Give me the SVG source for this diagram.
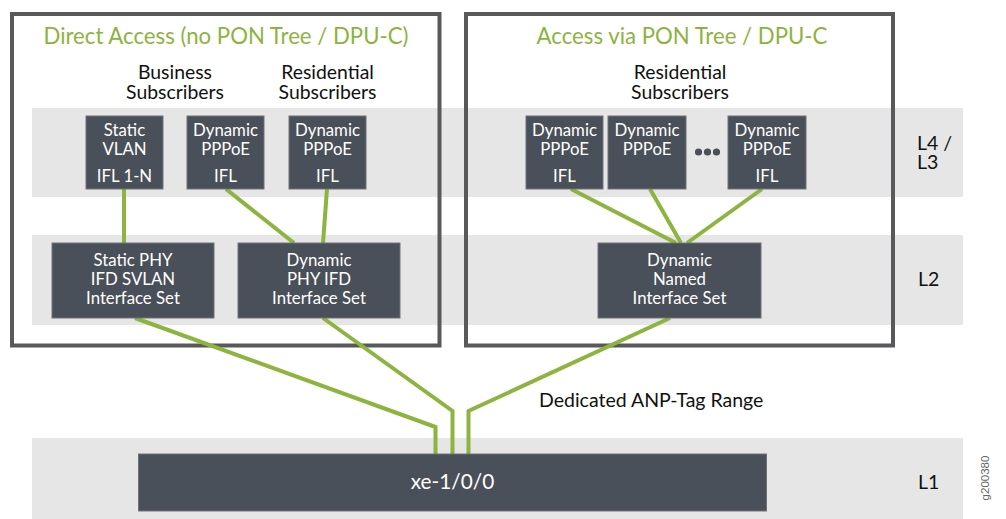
<svg xmlns="http://www.w3.org/2000/svg" width="1006" height="519" viewBox="0 0 1006 519">
  <style>
    .band { fill: #e6e6e6; }
    .frame { fill: none; stroke: #58595b; stroke-width: 4; }
    .node { fill: #4a5059; stroke: #6e737a; stroke-width: 1; }
    .nt { font-family: Lato, "Open Sans", sans-serif; font-size: 16.8px; fill: #ffffff; text-anchor: middle; }
    .nt.port { font-size: 20.8px; }
    .title { font-family: Lato, "Open Sans", sans-serif; font-size: 22.2px; fill: #8db33f; text-anchor: middle; }
    .lbl { font-family: Lato, "Open Sans", sans-serif; font-size: 19.4px; fill: #111111; text-anchor: middle; }
    .layer { font-family: Lato, "Open Sans", sans-serif; font-size: 19.5px; fill: #111111; }
    .link { fill: none; stroke: #8cb43e; stroke-width: 4; stroke-linejoin: miter; }
    .dot { fill: #4a5059; }
  </style>

  <!-- protocol layer bands -->
  <g id="bands">
    <rect class="band" x="32" y="108" width="931" height="89"/>
    <rect class="band" x="32" y="235" width="931" height="90"/>
    <rect class="band" x="32" y="438" width="931" height="81"/>
  </g>

  <!-- access domains -->
  <g id="domain-direct">
    <rect class="frame" x="12" y="14" width="427.5" height="331.5"/>
    <text class="title" x="226" y="43.5">Direct Access (no PON Tree / DPU-C)</text>
    <text class="lbl" x="175" y="78.5">Business</text>
    <text class="lbl" x="175" y="98.5">Subscribers</text>
    <text class="lbl" x="327.5" y="78.5">Residential</text>
    <text class="lbl" x="327.5" y="98.5">Subscribers</text>
  </g>
  <g id="domain-pon">
    <rect class="frame" x="466" y="14" width="427" height="331.5"/>
    <text class="title" x="682" y="43.5">Access via PON Tree / DPU-C</text>
    <text class="lbl" x="680" y="78.5">Residential</text>
    <text class="lbl" x="680" y="98.5">Subscribers</text>
  </g>

  <!-- layer labels -->
  <g id="layer-labels">
    <text class="layer" x="917" y="149.5">L4 /</text>
    <text class="layer" x="917" y="168.5">L3</text>
    <text class="layer" x="918" y="286">L2</text>
    <text class="layer" x="918" y="489">L1</text>
    <text x="539" y="407" class="layer">Dedicated ANP-Tag Range</text>
    <text transform="translate(989 478) rotate(-90)" text-anchor="middle" font-family="'Liberation Sans', Arial, sans-serif" font-size="11.5" fill="#666666">g200380</text>
  </g>

  <!-- connectors -->
  <g id="connectors">
    <path class="link" d="M124 189 V243"/>
    <path class="link" d="M226 189 L294 243"/>
    <path class="link" d="M327 189 L323 243"/>
    <path class="link" d="M571 189 L676 243"/>
    <path class="link" d="M650 189 L681 243"/>
    <path class="link" d="M762 189 L687 243"/>
    <path class="link" d="M135 318 L435.5 427 V455"/>
    <path class="link" d="M323 318 L452.5 411 V455"/>
    <path class="link" d="M670 318 L468.5 411 V455"/>
  </g>

  <!-- L4 / L3 nodes -->
  <g id="node-static-vlan">
    <rect class="node" x="86" y="116" width="77" height="73"/>
    <text class="nt" x="124.5" y="136">Static</text>
    <text class="nt" x="124.5" y="155">VLAN</text>
    <text class="nt" x="124.5" y="182">IFL 1-N</text>
  </g>
  <g id="node-pppoe-biz">
    <rect class="node" x="187" y="116" width="77" height="73"/>
    <text class="nt" x="225.5" y="136">Dynamic</text>
    <text class="nt" x="225.5" y="155">PPPoE</text>
    <text class="nt" x="225.5" y="182">IFL</text>
  </g>
  <g id="node-pppoe-res">
    <rect class="node" x="289" y="116" width="77" height="73"/>
    <text class="nt" x="327.5" y="136">Dynamic</text>
    <text class="nt" x="327.5" y="155">PPPoE</text>
    <text class="nt" x="327.5" y="182">IFL</text>
  </g>
  <g id="node-pppoe-pon-1">
    <rect class="node" x="526" y="116" width="77" height="73"/>
    <text class="nt" x="564.5" y="136">Dynamic</text>
    <text class="nt" x="564.5" y="155">PPPoE</text>
    <text class="nt" x="564.5" y="182">IFL</text>
  </g>
  <g id="node-pppoe-pon-2">
    <rect class="node" x="608" y="116" width="78" height="73"/>
    <text class="nt" x="647" y="136">Dynamic</text>
    <text class="nt" x="647" y="155">PPPoE</text>
  </g>
  <g id="ellipsis">
    <circle class="dot" cx="698.5" cy="152" r="3.6"/>
    <circle class="dot" cx="707.5" cy="152" r="3.6"/>
    <circle class="dot" cx="716.5" cy="152" r="3.6"/>
  </g>
  <g id="node-pppoe-pon-n">
    <rect class="node" x="728" y="116" width="78" height="73"/>
    <text class="nt" x="767" y="136">Dynamic</text>
    <text class="nt" x="767" y="155">PPPoE</text>
    <text class="nt" x="767" y="182">IFL</text>
  </g>

  <!-- L2 nodes -->
  <g id="node-static-phy">
    <rect class="node" x="52" y="243" width="162" height="75"/>
    <text class="nt" x="133" y="266">Static PHY</text>
    <text class="nt" x="133" y="285">IFD SVLAN</text>
    <text class="nt" x="133" y="304">Interface Set</text>
  </g>
  <g id="node-dynamic-phy">
    <rect class="node" x="238" y="243" width="162" height="75"/>
    <text class="nt" x="319" y="266">Dynamic</text>
    <text class="nt" x="319" y="285">PHY IFD</text>
    <text class="nt" x="319" y="304">Interface Set</text>
  </g>
  <g id="node-dynamic-named">
    <rect class="node" x="598" y="243" width="163" height="75"/>
    <text class="nt" x="679.5" y="266">Dynamic</text>
    <text class="nt" x="679.5" y="285">Named</text>
    <text class="nt" x="679.5" y="304">Interface Set</text>
  </g>

  <!-- L1 port -->
  <g id="node-port">
    <rect class="node" x="138.5" y="454" width="628" height="57"/>
    <text class="nt port" x="452.5" y="488.5">xe-1/0/0</text>
  </g>
</svg>
